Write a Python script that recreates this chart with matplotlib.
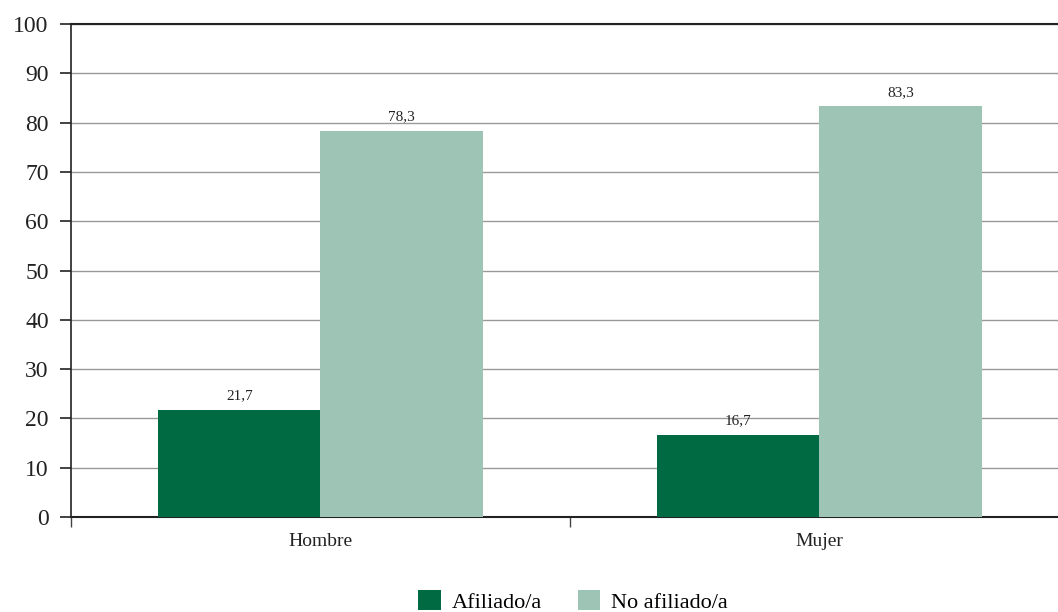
import matplotlib
matplotlib.use('Agg')
import matplotlib.pyplot as plt
import numpy as np

categories = ['Hombre', 'Mujer']
afiliado = [21.7, 16.7]
no_afiliado = [78.3, 83.3]
series_names = ['Afiliado/a', 'No afiliado/a']
yticks = [0, 10, 20, 30, 40, 50, 60, 70, 80, 90, 100]

dark = '#006b43'
light = '#9dc4b4'

plt.rcParams['font.family'] = ['Liberation Serif', 'DejaVu Serif']

fig = plt.figure(figsize=(10.58, 6.12), dpi=100)
ax = fig.add_axes([0.0671, 0.1552, 0.9329, 0.8056])

x = np.arange(len(categories))
w = 0.325
b1 = ax.bar(x - w / 2, afiliado, w, color=dark, label=series_names[0], zorder=3)
b2 = ax.bar(x + w / 2, no_afiliado, w, color=light, label=series_names[1], zorder=3)

def fmt(v):
    return f'{v:.1f}'.replace('.', ',')

for bars, vals in ((b1, afiliado), (b2, no_afiliado)):
    for r, v in zip(bars, vals):
        ax.text(r.get_x() + r.get_width() / 2, v + 1.5, fmt(v),
                ha='center', va='bottom', fontsize=11, color='#222222')

ax.set_yticks(yticks)
ax.set_yticklabels([str(t) for t in yticks], fontsize=17, color='#222222')
ax.tick_params(axis='y', length=8, width=1.2, color='#222222', pad=8)

ax.set_xticks([-0.5, 0.5, 1.5])
ax.set_xticklabels([])
ax.tick_params(axis='x', length=7, width=1, color='#444444')
ax.set_ylim(0, 100)
ax.set_xlim(-0.5, 1.478)
for i, c in enumerate(categories):
    ax.text(i, -3.2, c, ha='center', va='top', fontsize=14, color='#222222',
            transform=ax.transData)

ax.grid(axis='y', color='#999999', lw=1, zorder=0)
ax.spines['right'].set_visible(False)
ax.spines['top'].set_color('#222222')
ax.spines['top'].set_linewidth(1.5)
ax.spines['left'].set_color('#222222')
ax.spines['left'].set_linewidth(1.2)
ax.spines['bottom'].set_color('#222222')
ax.spines['bottom'].set_linewidth(1.5)

fig.legend(handles=[b1, b2], labels=series_names, loc='lower center',
           bbox_to_anchor=(0.5416, -0.034), ncol=2, frameon=False, fontsize=16,
           handlelength=1.0, handleheight=1.0, columnspacing=1.6, handletextpad=0.5)

plt.savefig('out.png', dpi=100)
